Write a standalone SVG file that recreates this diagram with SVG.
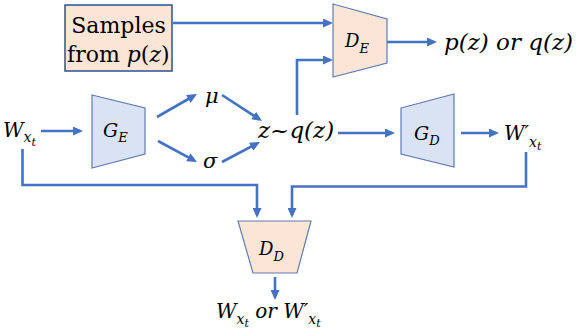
<svg xmlns="http://www.w3.org/2000/svg" width="577" height="330" viewBox="0 0 577 330">
<style>
.conn{fill:none;stroke:#4472c4;stroke-width:2.6;stroke-linejoin:miter}
.blue{fill:#dae3f3;stroke:#5f7bb4;stroke-width:1.2}
.peach{fill:#fbe5d6;stroke:#5f7bb4;stroke-width:1.2}
.t{font-family:"DejaVu Serif","Liberation Serif",serif;fill:#000}
.m{font-family:"DejaVu Serif","Liberation Serif",serif;font-style:italic;fill:#000}
</style>
<defs>
<marker id="ah" markerUnits="userSpaceOnUse" markerWidth="10" markerHeight="9" refX="7" refY="4.5" orient="auto">
<path d="M0,0 L10,4.5 L0,9 z" fill="#4472c4"/>
</marker>
</defs>
<rect width="577" height="330" fill="#fff"/>
<g id="connectors">
<path class="conn" d="M173,23 H330" marker-end="url(#ah)"/>
<path class="conn" d="M297,115 V60 H330" marker-end="url(#ah)"/>
<path class="conn" d="M387,42 H434" marker-end="url(#ah)"/>
<path class="conn" d="M41,131 H80" marker-end="url(#ah)"/>
<path class="conn" d="M157,117 L194.4,95.5" marker-end="url(#ah)"/>
<path class="conn" d="M158,141 L194.4,160.6" marker-end="url(#ah)"/>
<path class="conn" d="M222,95 L259.5,119.4" marker-end="url(#ah)"/>
<path class="conn" d="M222,162 L257.3,143.4" marker-end="url(#ah)"/>
<path class="conn" d="M338,133 H392" marker-end="url(#ah)"/>
<path class="conn" d="M461,133 H496" marker-end="url(#ah)"/>
<path class="conn" d="M22.5,149 V185 H257 V215" marker-end="url(#ah)"/>
<path class="conn" d="M526,152 V186.5 H292 V215" marker-end="url(#ah)"/>
<path class="conn" d="M275,277 V297" marker-end="url(#ah)"/>
</g>
<g id="samples">
<rect x="65" y="5" width="107" height="66" fill="#fbe5d6" stroke="#2f528f" stroke-width="1.5"/>
<text class="t" x="118.5" y="33" font-size="22" text-anchor="middle">Samples</text>
<text class="t" x="67" y="62" font-size="22">from <tspan class="m">p</tspan>(<tspan class="m">z</tspan>)</text>
</g>
<g id="w-input">
<text class="m" x="3" y="137" font-size="20">W<tspan font-size="14" dy="5">x</tspan><tspan font-size="11" dy="4">t</tspan></text>
</g>
<g id="ge">
<polygon class="blue" points="92,95 145,108 145,154 92,168"/>
<text class="m" x="103" y="137" font-size="19">G<tspan font-size="13" dy="5">E</tspan></text>
</g>
<g id="mu"><text class="m" x="205" y="103" font-size="21">μ</text></g>
<g id="sigma"><text class="m" x="203" y="168" font-size="21">σ</text></g>
<g id="z"><text class="m" x="258" y="138" font-size="23">z~q(z)</text></g>
<g id="de">
<polygon class="peach" points="333,4 387,19 387,63 333,77"/>
<text class="m" x="345" y="47" font-size="18">D<tspan font-size="13" dy="6">E</tspan></text>
</g>
<g id="pq"><text class="m" x="444" y="50" font-size="23">p(z) or q(z)</text></g>
<g id="gd">
<polygon class="blue" points="401,108 454,94 454,167 401,154"/>
<text class="m" x="414" y="140" font-size="19">G<tspan font-size="13" dy="5">D</tspan></text>
</g>
<g id="w-output">
<text class="m" x="504" y="140" font-size="20">W′<tspan font-size="14" dy="7">x</tspan><tspan font-size="11" dy="3">t</tspan></text>
</g>
<g id="dd">
<polygon class="peach" points="238,221 311,221 297,273 253,273"/>
<text class="m" x="259" y="255" font-size="18">D<tspan font-size="13" dy="6">D</tspan></text>
</g>
<g id="out">
<text class="m" x="216" y="318" font-size="20">W<tspan font-size="14" dy="6">x</tspan><tspan font-size="11" dy="3">t</tspan><tspan font-size="20" dy="-9"> or W′</tspan><tspan font-size="14" dy="6">x</tspan><tspan font-size="11" dy="3">t</tspan></text>
</g>
</svg>
